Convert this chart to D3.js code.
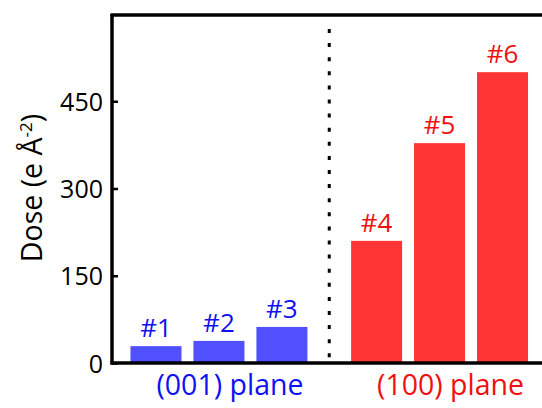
<!DOCTYPE html>
<html>
<head>
<meta charset="utf-8">
<script src="https://cdn.jsdelivr.net/npm/d3@7"></script>
<style>
  html, body { margin: 0; padding: 0; background: #fff; }
  svg { display: block; }
  text { font-family: "Open Sans", sans-serif; }
</style>
</head>
<body>
<div id="chart"></div>
<script>
// ---- data ----
const groups = ["(001) plane", "(100) plane"];
const samples001 = ["#1", "#2", "#3"];
const doses001 = [29, 38, 62];
const samples100 = ["#4", "#5", "#6"];
const doses100 = [210, 378, 500];
const yTicks = [0, 150, 300, 450];
const yLabel = "Dose (e Å";
const yLabelSup = "-2";

// ---- layout ----
const W = 542, H = 408;
const axisX = 112, axisY = 363, topY = 14;
const blueBar = "#5050FF", blueText = "#1010F0";
const redBar = "#FF3535", redText = "#F01010";

const svg = d3.select("#chart").append("svg").attr("width", W).attr("height", H);

const y = d3.scaleLinear().domain([0, 600]).range([axisY, topY]);

const outer = d3.scaleBand().domain(groups).range([124.5, 534]).paddingInner(0.1438).paddingOuter(0);
const inner = d3.scaleBand().domain([0, 1, 2]).range([0, outer.bandwidth()]).paddingInner(0.19).paddingOuter(0.095);

const data = [
  { group: groups[0], names: samples001, vals: doses001, bar: blueBar, txt: blueText },
  { group: groups[1], names: samples100, vals: doses100, bar: redBar, txt: redText }
];

data.forEach(g => {
  const gx = outer(g.group);
  const gsel = svg.append("g").attr("transform", `translate(${gx},0)`);
  g.vals.forEach((v, i) => {
    gsel.append("rect")
      .attr("x", inner(i)).attr("width", inner.bandwidth())
      .attr("y", y(v)).attr("height", y(0) - y(v))
      .attr("fill", g.bar);
    gsel.append("text")
      .attr("x", inner(i) + inner.bandwidth() / 2)
      .attr("y", y(v) - 9)
      .attr("text-anchor", "middle")
      .attr("font-size", 26)
      .attr("fill", g.txt)
      .text(g.names[i]);
  });
  svg.append("text")
    .attr("x", gx + outer.bandwidth() / 2 + 11)
    .attr("y", 395)
    .attr("text-anchor", "middle")
    .attr("font-size", 28.5)
    .attr("fill", g.txt)
    .text(g.group);
});

// separator dotted line
const sepX = (outer(groups[0]) + outer.bandwidth() + outer(groups[1])) / 2;
svg.append("line")
  .attr("x1", sepX).attr("x2", sepX)
  .attr("y1", topY + 15).attr("y2", axisY - 2)
  .attr("stroke", "#000").attr("stroke-width", 3)
  .attr("stroke-dasharray", "4,10.1");

// y axis
const yAxis = d3.axisRight(y).tickValues(yTicks).tickSize(6).tickFormat(d3.format("d"));
const ya = svg.append("g").attr("transform", `translate(${axisX},0)`).call(yAxis);
ya.select(".domain").remove();
ya.selectAll(".tick line").attr("stroke", "#000").attr("stroke-width", 2.5);
ya.selectAll(".tick text")
  .attr("x", -9).attr("text-anchor", "end").attr("dy", "0.36em")
  .attr("font-size", 25).attr("font-family", "'Open Sans', sans-serif").attr("fill", "#000");

// frame lines
svg.append("line").attr("x1", axisX).attr("x2", axisX).attr("y1", topY).attr("y2", axisY + 1.5)
  .attr("stroke", "#000").attr("stroke-width", 3.5);
svg.append("line").attr("x1", axisX - 1.5).attr("x2", W).attr("y1", axisY).attr("y2", axisY)
  .attr("stroke", "#000").attr("stroke-width", 3.5);
svg.append("line").attr("x1", axisX - 1.5).attr("x2", W).attr("y1", topY + 1).attr("y2", topY + 1)
  .attr("stroke", "#000").attr("stroke-width", 3.5);

// y label
const yl = svg.append("text")
  .attr("transform", `translate(42,188) rotate(-90)`)
  .attr("text-anchor", "middle")
  .attr("font-size", 28.5)
  .attr("fill", "#000");
yl.append("tspan").text(yLabel);
yl.append("tspan").attr("dy", -10).attr("font-size", 17).text(yLabelSup);
yl.append("tspan").attr("dy", 10).text(")");
</script>
</body>
</html>
